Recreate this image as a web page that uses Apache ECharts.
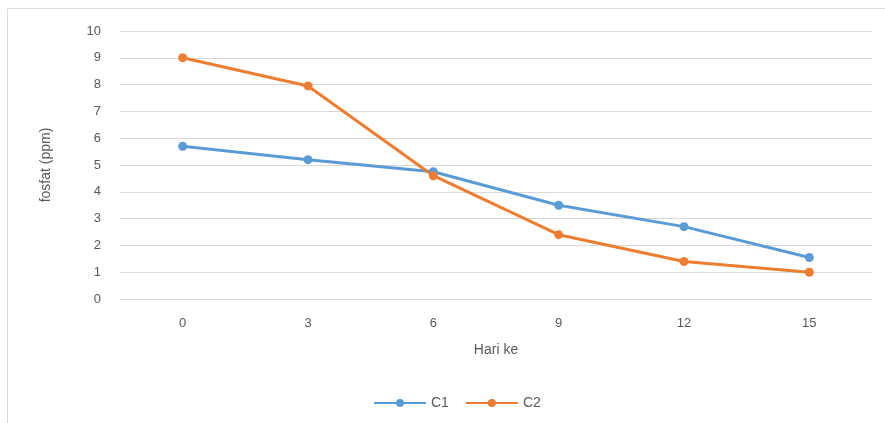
<!DOCTYPE html>
<html>
<head>
<meta charset="utf-8">
<script src="https://cdn.jsdelivr.net/npm/echarts@6/dist/echarts.min.js"></script>
<style>
  html, body { margin: 0; padding: 0; background: #fff; }
  #chart { width: 885px; height: 423px; }
</style>
</head>
<body>
<div id="chart"></div>
<script>
// Phosphate concentration over days
const days = ['0', '3', '6', '9', '12', '15'];
const c1 = [5.7, 5.2, 4.75, 3.5, 2.7, 1.55];
const c2 = [9.0, 7.95, 4.6, 2.4, 1.4, 1.0];
const yTicks = { min: 0, max: 10, interval: 1 };

const textColor = '#595959';
const font = 'Liberation Sans, Arial, sans-serif';

const chart = echarts.init(document.getElementById('chart'));
chart.setOption({
  backgroundColor: '#fff',
  animation: false,
  textStyle: { fontFamily: font },
  graphic: [{
    type: 'rect',
    silent: true,
    shape: { x: 7.5, y: 8.5, width: 900, height: 500 },
    style: { fill: 'none', stroke: '#d9d9d9', lineWidth: 1 }
  }],
  grid: { left: 120, right: 13, top: 31, bottom: 124 },
  xAxis: {
    type: 'category',
    data: days,
    boundaryGap: true,
    name: 'Hari ke',
    nameLocation: 'middle',
    nameGap: 44,
    nameTextStyle: { color: textColor, fontSize: 14, fontFamily: font },
    axisLine: { lineStyle: { color: '#d9d9d9', width: 1 } },
    axisTick: { show: false },
    axisLabel: { color: textColor, fontSize: 13, margin: 18, fontFamily: font }
  },
  yAxis: {
    type: 'value',
    min: yTicks.min,
    max: yTicks.max,
    interval: yTicks.interval,
    name: 'fosfat (ppm)',
    nameLocation: 'middle',
    nameGap: 67,
    nameRotate: 90,
    nameTextStyle: { color: textColor, fontSize: 14, fontFamily: font },
    axisLine: { show: false },
    axisTick: { show: false },
    axisLabel: { color: textColor, fontSize: 13, margin: 19, fontFamily: font },
    splitLine: { lineStyle: { color: '#d9d9d9', width: 1 } }
  },
  legend: {
    bottom: 8,
    left: 368,
    itemWidth: 52,
    itemHeight: 10,
    itemGap: 16,
    textStyle: { color: textColor, fontSize: 14, fontFamily: font },
    data: ['C1', 'C2']
  },
  series: [
    {
      name: 'C1',
      type: 'line',
      data: c1,
      symbol: 'circle',
      symbolSize: 9,
      lineStyle: { color: '#5B9BD5', width: 3 },
      itemStyle: { color: '#5B9BD5' }
    },
    {
      name: 'C2',
      type: 'line',
      data: c2,
      symbol: 'circle',
      symbolSize: 9,
      lineStyle: { color: '#ED7D31', width: 3 },
      itemStyle: { color: '#ED7D31' }
    }
  ]
});
</script>
</body>
</html>
